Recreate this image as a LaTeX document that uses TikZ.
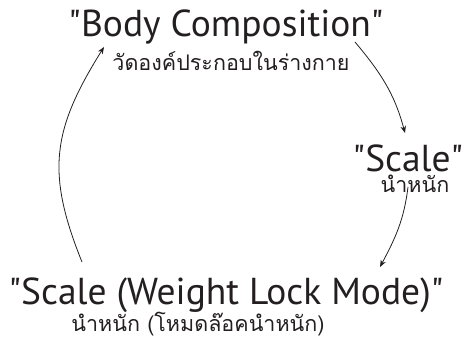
\documentclass[tikz,border=0pt]{standalone}
\usepackage{fontspec}
\setmainfont{PT Sans}
\newfontfamily\thaifont[Script=Thai]{Loma}
\usetikzlibrary{arrows.meta, positioning}
\definecolor{ink}{HTML}{231F20}
\newcommand{\qt}[1]{\textquotedbl#1\textquotedbl}

\begin{document}
\begin{tikzpicture}[
    x=1pt, y=1pt,
    every node/.style={text=ink, inner sep=0pt},
    entitle/.style={font=\fontsize{37.5}{42}\selectfont, anchor=base},
    thtitle/.style={font=\thaifont\fontsize{21.5}{26}\selectfont, anchor=base},
    arr/.style={-{Stealth[length=7pt, width=5.5pt]}, draw=ink, line width=0.8pt}
  ]
  \useasboundingbox (0,0) rectangle (463,344);

  % --- Top: body composition ---
  \node[entitle] (body) at (226,307) {\qt{Body Composition}};
  \node[thtitle] (bodyth) at (231,273) {วัดองค์ประกอบในร่างกาย};

  % --- Right: scale ---
  \node[entitle] (scale) at (408,172) {\qt{Scale}};
  \node[thtitle] (scaleth) at (415,151) {นำหนัก};

  % --- Bottom: weight lock mode ---
  \node[entitle] (lock) at (226,39) {\qt{Scale (Weight Lock Mode)}};
  \node[thtitle] (lockth) at (198,12) {นำหนัก (โหมดล๊อคนำหนัก)};

  % --- Arrow ends ---
  \coordinate (bodyin) at (104,297);
  \coordinate (bodyout) at (355,302);
  \coordinate (scalein) at (405,211);
  \coordinate (scaleout) at (408,157);
  \coordinate (lockin) at (380,77);
  \coordinate (lockout) at (82,82);

  % --- Arrows ---
  \draw[arr] (bodyout) to[out=-50, in=105] (scalein);
  \draw[arr] (scaleout) to[out=-97, in=62] (lockin);
  \draw[arr] (lockout) to[out=112, in=238, looseness=1.15] (bodyin);

\end{tikzpicture}
\end{document}
